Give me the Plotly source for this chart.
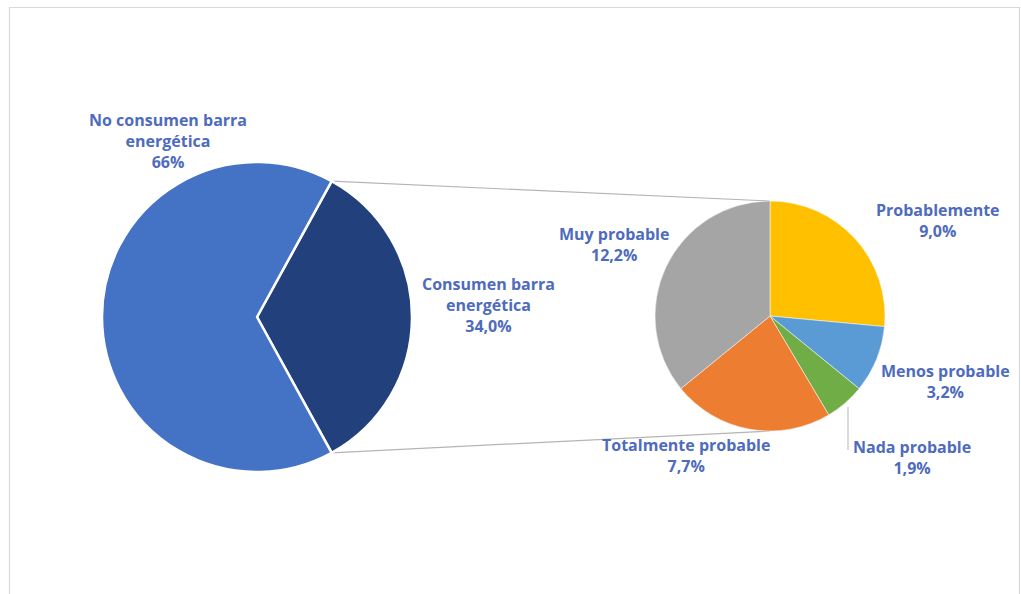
import math
import plotly.graph_objects as go

# Primary split
main_labels = ["Consumen barra energética", "No consumen barra energética"]
main_values = [34.0, 66.0]
main_decimals = [1, 0]

# Breakdown of the 34 % that consume energy bars
sub_labels = ["Probablemente", "Menos probable", "Nada probable",
              "Totalmente probable", "Muy probable"]
sub_values = [9.0, 3.2, 1.9, 7.7, 12.2]

MAIN_COLORS = ["#22417c", "#4472c4"]
SUB_COLORS = ["#ffc000", "#5b9bd5", "#70ad47", "#ed7d31", "#a5a5a5"]
TEXT_COLOR = "#4e6bbd"
LINE_COLOR = "#b4b4b4"

W, H = 1021, 594


def px_x(x):
    return x / W


def px_y(y):
    return 1 - y / H


def fmt(v, d):
    return (f"{v:.{d}f}".replace(".", ",")) + "%"


def wrap(label):
    # break the long category names the same way the chart lays them out
    if label.endswith("barra energética"):
        return label.replace(" energética", "<br>energética")
    return label


# Pie geometry (pixels)
MCX, MCY, MR = 257, 317, 155
SCX, SCY, SR = 770, 316, 115

# Rotate the main pie so the consuming slice is centred at 3 o'clock
main_total = sum(main_values)
half_span = main_values[0] / main_total * 360 / 2
main_rotation = 90 - half_span

fig = go.Figure()

fig.add_trace(go.Pie(
    labels=main_labels, values=main_values, sort=False,
    direction="clockwise", rotation=main_rotation,
    marker=dict(colors=MAIN_COLORS, line=dict(color="white", width=2.5)),
    textinfo="none", hoverinfo="label+percent", showlegend=False,
    domain=dict(x=[px_x(MCX - MR), px_x(MCX + MR)],
                y=[px_y(MCY + MR), px_y(MCY - MR)]),
))

fig.add_trace(go.Pie(
    labels=sub_labels, values=sub_values, sort=False,
    direction="clockwise", rotation=0,
    marker=dict(colors=SUB_COLORS, line=dict(color="white", width=0.5)),
    textinfo="none", hoverinfo="label+value", showlegend=False,
    domain=dict(x=[px_x(SCX - SR), px_x(SCX + SR)],
                y=[px_y(SCY + SR), px_y(SCY - SR)]),
))

# Chart frame (drawn first so everything else sits on top)
shapes = [dict(type="rect", xref="paper", yref="paper", layer="below",
               x0=px_x(9.5), y0=px_y(600), x1=px_x(1019.5), y1=px_y(7.5),
               line=dict(color="#d9d9d9", width=1.2))]

# Connector lines from the edges of the consuming slice to the secondary pie
for ang, sy in [(main_rotation, SCY - SR), (main_rotation + 2 * half_span, SCY + SR)]:
    a = math.radians(ang)
    ex = MCX + MR * math.sin(a)
    ey = MCY - MR * math.cos(a)
    shapes.append(dict(type="line", xref="paper", yref="paper", layer="below",
                       x0=px_x(ex), y0=px_y(ey), x1=px_x(SCX), y1=px_y(sy),
                       line=dict(color=LINE_COLOR, width=1.2)))

# Leader line for the small "Nada probable" slice
shapes.append(dict(type="line", xref="paper", yref="paper",
                   x0=px_x(848), y0=px_y(407), x1=px_x(848), y1=px_y(450),
                   line=dict(color=LINE_COLOR, width=1)))

# Label anchors (pixel centres of each text block)
main_pos = [(488, 305), (168, 141)]
sub_pos = [(938, 220), (945, 381), (912, 457), (686, 456), (614, 244)]

annotations = []
for lab, val, d, (x, y) in zip(main_labels, main_values, main_decimals, main_pos):
    annotations.append(dict(text=f"{wrap(lab)}<br>{fmt(val, d)}", x=px_x(x), y=px_y(y)))
for lab, val, (x, y) in zip(sub_labels, sub_values, sub_pos):
    annotations.append(dict(text=f"{lab}<br>{fmt(val, 1)}", x=px_x(x), y=px_y(y)))

for a in annotations:
    a.update(xref="paper", yref="paper", showarrow=False,
             xanchor="center", yanchor="middle", align="center",
             font=dict(family="Open Sans", size=16, color=TEXT_COLOR, weight="bold"))

fig.update_layout(
    width=W, height=H,
    margin=dict(l=0, r=0, t=0, b=0),
    paper_bgcolor="white", plot_bgcolor="white",
    shapes=shapes, annotations=annotations,
)

fig.write_html("out.html")
